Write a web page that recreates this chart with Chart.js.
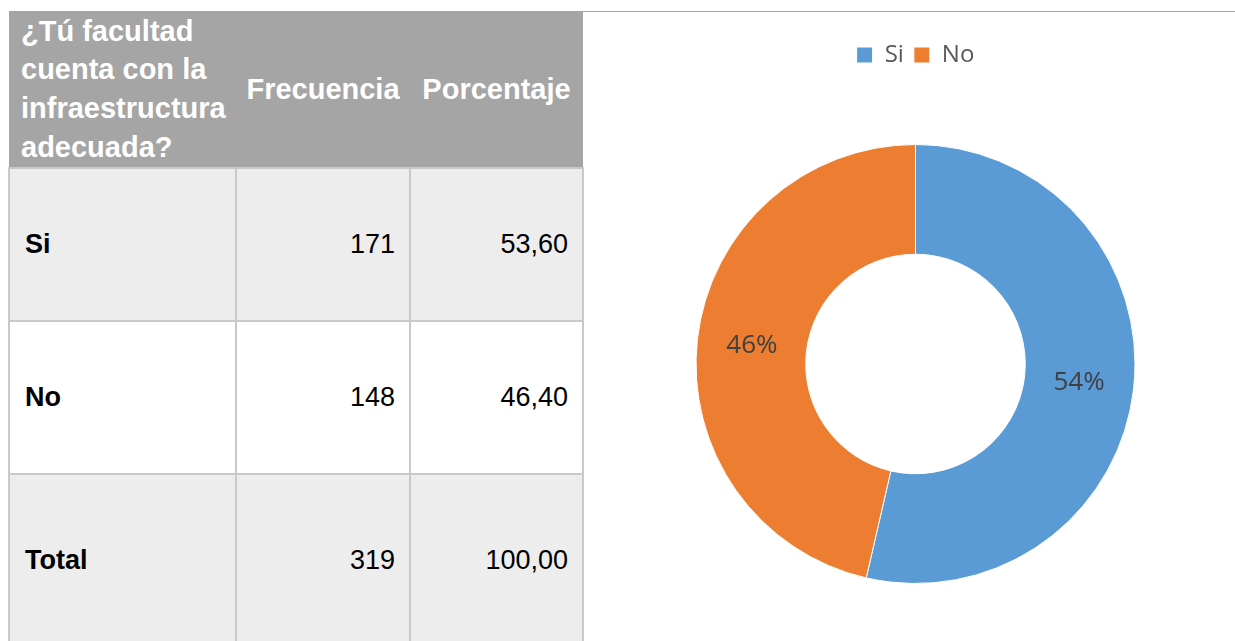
<!DOCTYPE html>
<html>
<head>
<meta charset="utf-8">
<script src="https://cdn.jsdelivr.net/npm/chart.js@4.4.1/dist/chart.umd.min.js"></script>
<style>
    html, body { margin: 0; padding: 0; background: #fff; overflow: hidden; }
    body { width: 1235px; height: 641px; position: relative; }

    #tabla {
        position: absolute; left: 8px; top: 11px;
        border-collapse: collapse; table-layout: fixed;
        font-family: Arial, "Liberation Sans", sans-serif;
    }
    #tabla th {
        background: #a5a5a5; color: #fff; font-weight: bold;
        font-size: 29px; line-height: 38.7px; height: 156px;
        padding: 0; text-align: center; vertical-align: middle;
    }
    #tabla th.first { text-align: left; padding-left: 12px; }
    #tabla td {
        font-size: 27px; color: #000; height: 151px;
        border: 2px solid #c9c9c9; text-align: right; padding: 0 14px 0 0;
    }
    #tabla td.lbl { text-align: left; font-weight: bold; padding-left: 15px; }
    #tabla tr.odd td { background: #ededed; }
    #tabla tr.even td { background: #fff; }
    #tabla tr.total td { height: 170px; }

    #topline { position: absolute; left: 583px; top: 11px; width: 652px; height: 1px; background: #a6a6a6; }
    #chartBox { position: absolute; left: 583px; top: 11px; width: 652px; height: 640px; }
</style>
</head>
<body>
<table id="tabla">
    <colgroup><col style="width:227px"><col style="width:174px"><col style="width:173px"></colgroup>
    <thead></thead>
    <tbody></tbody>
</table>
<div id="topline"></div>
<div id="chartBox"><canvas id="dona"></canvas></div>

<script>
// encabezados de la tabla
const headers = ['¿Tú facultad<br>cuenta con la<br>infraestructura<br>adecuada?', 'Frecuencia', 'Porcentaje'];

// datos
const categories = ['Si', 'No'];
const frecuencia = [171, 148];
const porcentaje = [53.60, 46.40];
const totalLabel = 'Total';
const totalFrecuencia = 319;
const totalPorcentaje = 100.00;

const colors = ['#5b9bd5', '#ed7d31'];

// --- tabla ---
const fmt = v => v.toFixed(2).replace('.', ',');
const thead = document.querySelector('#tabla thead');
thead.innerHTML = '<tr>' + headers.map((h, i) =>
    `<th class="${i === 0 ? 'first' : ''}">${h}</th>`).join('') + '</tr>';

const tbody = document.querySelector('#tabla tbody');
let rows = '';
categories.forEach((c, i) => {
    rows += `<tr class="${i % 2 === 0 ? 'odd' : 'even'}"><td class="lbl">${c}</td>` +
            `<td>${frecuencia[i]}</td><td>${fmt(porcentaje[i])}</td></tr>`;
});
rows += `<tr class="odd total"><td class="lbl">${totalLabel}</td>` +
        `<td>${totalFrecuencia}</td><td>${fmt(totalPorcentaje)}</td></tr>`;
tbody.innerHTML = rows;

// --- etiquetas de porcentaje dentro de la dona ---
const pctLabels = {
    id: 'pctLabels',
    afterDatasetsDraw(chart) {
        const ctx = chart.ctx;
        const ds = chart.data.datasets[0];
        const sum = ds.data.reduce((a, b) => a + b, 0);
        ctx.save();
        ctx.font = '26px "Open Sans", sans-serif';
        ctx.fillStyle = '#404040';
        ctx.textAlign = 'center';
        ctx.textBaseline = 'middle';
        chart.getDatasetMeta(0).data.forEach((arc, i) => {
            const p = arc.tooltipPosition();
            ctx.fillText(Math.round(ds.data[i] / sum * 100) + '%', p.x, p.y);
        });
        ctx.restore();
    }
};

new Chart(document.getElementById('dona'), {
    type: 'doughnut',
    data: {
        labels: categories,
        datasets: [{
            data: frecuencia,
            backgroundColor: colors,
            borderColor: '#ffffff',
            borderWidth: 1,
            radius: 219.5,
            cutout: '50%'
        }]
    },
    options: {
        responsive: true,
        maintainAspectRatio: false,
        animation: false,
        layout: { padding: { top: 22, left: 13, right: 0, bottom: 0 } },
        plugins: {
            legend: {
                display: true,
                position: 'top',
                labels: {
                    color: '#595959',
                    font: { family: '"Open Sans", sans-serif', size: 24 },
                    boxWidth: 16,
                    boxHeight: 16,
                    padding: 10
                }
            },
            tooltip: { enabled: false }
        }
    },
    plugins: [pctLabels]
});
</script>
</body>
</html>
